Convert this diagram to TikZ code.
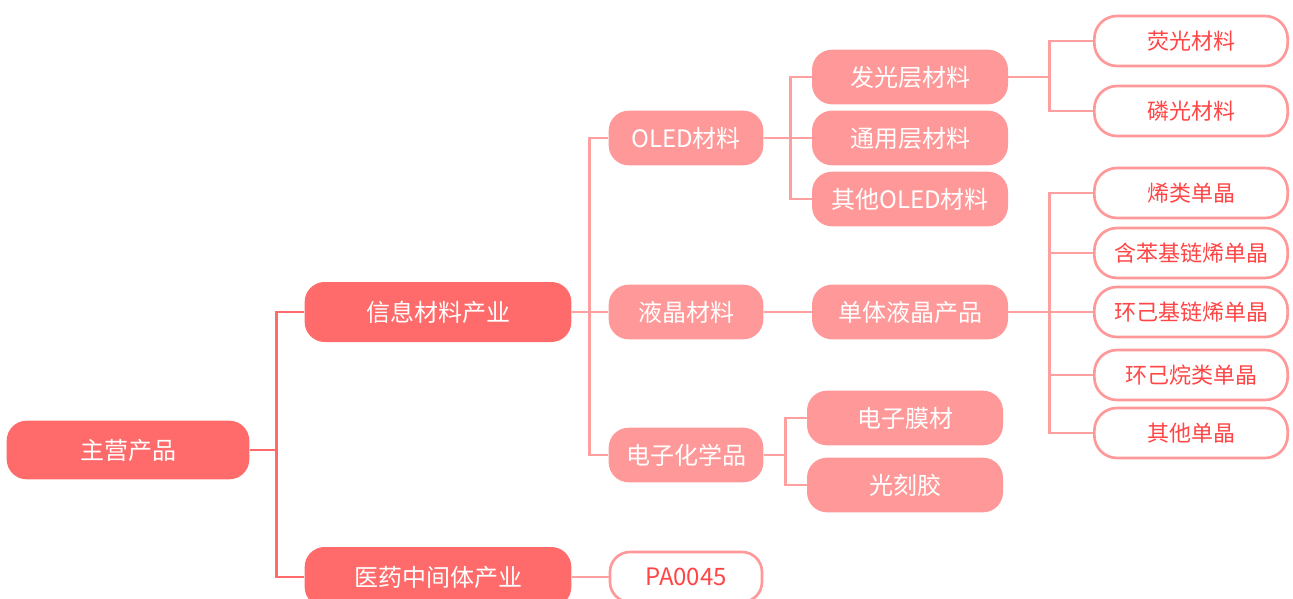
\documentclass[tikz,border=0pt]{standalone}
\usepackage{fontspec}
\setmainfont{Noto Sans CJK SC}
\definecolor{cA}{HTML}{FF6B6B}
\definecolor{cB}{HTML}{FF9999}
\definecolor{cLine}{HTML}{FFA0A0}
\definecolor{cTxt}{HTML}{FF4545}
\tikzset{
  box/.style={rectangle, rounded corners=15pt, inner sep=0pt, align=center, text=white, font=\fontsize{18pt}{20pt}\selectfont},
  rootbox/.style={box, fill=cA, minimum width=182pt, minimum height=44pt},
  lvone/.style={box, fill=cA, minimum width=200pt, minimum height=45pt},
  lvtwo/.style={box, fill=cB, minimum width=116pt, minimum height=41pt},
  lvthree/.style={box, fill=cB, minimum width=147pt, minimum height=41pt},
  leaf/.style={box, fill=white, draw=cB, line width=2pt, text=cTxt, rounded corners=17pt, minimum width=145pt, minimum height=37.5pt, font=\fontsize{16.5pt}{18pt}\selectfont},
  leaftwo/.style={box, fill=white, draw=cB, line width=2pt, text=cTxt, minimum width=114pt, minimum height=37.5pt},
  linkA/.style={draw=cA, line width=2.2pt},
  linkB/.style={draw=cLine, line width=2.2pt},
}
\begin{document}
\begin{tikzpicture}[x=0.75pt,y=-0.75pt]
\useasboundingbox (0,0) rectangle (1293,599);
\clip (0,0) rectangle (1293,599);
% nodes
\node[rootbox] (root) at (128,450) {主营产品};
\node[lvone] (xinxi) at (438,312) {信息材料产业};
\node[lvone] (yiyao) at (438,577) {医药中间体产业};
\node[lvtwo] (oled) at (686,138) {OLED材料};
\node[lvtwo] (yj) at (686,312) {液晶材料};
\node[lvtwo] (dz) at (686,455) {电子化学品};
\node[leaftwo] (pa) at (686,577) {PA0045};
\node[lvthree] (fg) at (910,77) {发光层材料};
\node[lvthree] (ty) at (910,138) {通用层材料};
\node[lvthree] (qt) at (910,199) {其他OLED材料};
\node[lvthree] (dt) at (910,312) {单体液晶产品};
\node[lvthree] (dm) at (905,418) {电子膜材};
\node[lvthree] (gk) at (905,485) {光刻胶};
\node[leaf] (yg) at (1191,41) {荧光材料};
\node[leaf] (lg) at (1191,111) {磷光材料};
\node[leaf] (l1) at (1191,193) {烯类单晶};
\node[leaf] (l2) at (1191,253) {含苯基链烯单晶};
\node[leaf] (l3) at (1191,312) {环己基链烯单晶};
\node[leaf] (l4) at (1191,375) {环己烷类单晶};
\node[leaf] (l5) at (1191,433) {其他单晶};
% connectors
\draw[linkA] (root.east) -- ++(27,0) |- (xinxi.west);
\draw[linkA] (root.east) -- ++(27,0) |- (yiyao.west);
\draw[linkB] (xinxi.east) -- ++(18,0) |- (oled.west);
\draw[linkB] (xinxi.east) -- ++(18,0) |- (yj.west);
\draw[linkB] (xinxi.east) -- ++(18,0) |- (dz.west);
\draw[linkB] (yiyao.east) -- (pa.west);
\draw[linkB] (oled.east) -- ++(27,0) |- (fg.west);
\draw[linkB] (oled.east) -- ++(27,0) |- (ty.west);
\draw[linkB] (oled.east) -- ++(27,0) |- (qt.west);
\draw[linkB] (yj.east) -- (dt.west);
\draw[linkB] (dz.east) -- ++(22,0) |- (dm.west);
\draw[linkB] (dz.east) -- ++(22,0) |- (gk.west);
\draw[linkB] (fg.east) -- ++(41,0) |- (yg.west);
\draw[linkB] (fg.east) -- ++(41,0) |- (lg.west);
\foreach \n in {l1,l2,l3,l4,l5}{
  \draw[linkB] (dt.east) -- ++(41,0) |- (\n.west);
}
\end{tikzpicture}
\end{document}
